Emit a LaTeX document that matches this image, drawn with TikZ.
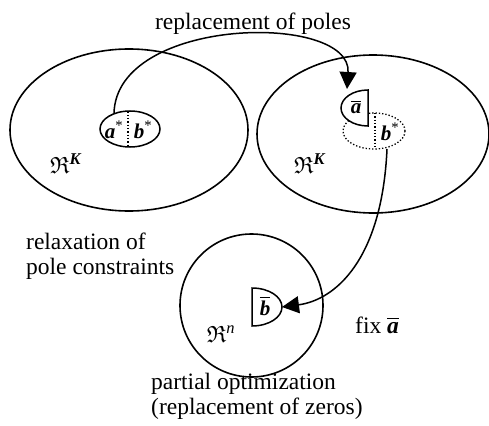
\documentclass[tikz,border=0pt]{standalone}
\usepackage{amsmath,amssymb}
\usepackage{fontspec}
\setmainfont{Liberation Serif}
\usetikzlibrary{shapes.geometric,arrows.meta}
\begin{document}
\begin{tikzpicture}[x=1pt,y=-1pt,
  every node/.style={font=\fontsize{23.5}{25}\selectfont, inner sep=0pt},
  region/.style={draw, ellipse, line width=1.6pt},
  inner/.style={line width=1.5pt},
  dottedline/.style={line width=1.3pt, dotted},
  conn/.style={line width=1.5pt, -{Triangle[length=17pt,width=17pt]}},
  lbl/.style={align=left},
  small/.style={font=\fontsize{21}{24}\selectfont}]
\useasboundingbox (0,0) rectangle (489,425);
% big regions
\node[region, minimum width=238pt, minimum height=162pt] (L) at (129,130) {};
\node[region, minimum width=232pt, minimum height=158pt] (R) at (373,134) {};
\node[region, circle, minimum size=143pt] (B) at (251.5,305.5) {};
% left small ellipse a*|b*
\node[draw, ellipse, inner, minimum width=60pt, minimum height=36pt] (AB) at (130,129) {};
\draw[dottedline] (128,111.5) -- (128,146.5);
\node[small] (astar) at (114,130) {\textbf{\textit{a}}\textsuperscript{*}};
\node[small] (bstar) at (143,130) {\textbf{\textit{b}}\textsuperscript{*}};
% right: a-bar half and dotted b ellipse
\node[draw, ellipse, dottedline, minimum width=62pt, minimum height=36pt] (DB) at (374,131) {};
\draw[dottedline] (375,113) -- (375,149);
\draw[inner, fill=white] (368,90) arc[start angle=-90, end angle=-270, x radius=27, y radius=18] -- cycle;
\node[small] (abar) at (356,107) {$\overline{\textbf{\textit{a}}}$};
\node[small] (bstar2) at (390,132) {\textbf{\textit{b}}\textsuperscript{*}};
% bottom: b-bar half
\draw[inner] (252,288) arc[start angle=-90, end angle=90, x radius=30, y radius=19] -- cycle;
\node[small] (bbar) at (265,306) {$\overline{\textbf{\textit{b}}}$};
% space labels
\node (RK1) at (66,164) {$\mathfrak{R}^{\textbf{\textit{K}}}$};
\node (RK2) at (310,164) {$\mathfrak{R}^{\textbf{\textit{K}}}$};
\node (Rn) at (221,334) {$\mathfrak{R}^{\textit{n}}$};
% coordinates for connectors
\coordinate (s1) at (114,113.5);
\coordinate (t1) at (347,89);
\coordinate (s2) at (387,149);
\coordinate (t2) at (282,307);
\draw[conn] (s1) .. controls (116,16) and (352,12) .. (t1);
\draw[conn] (s2) .. controls (382,260) and (335,300) .. (t2);
% text labels
\node (title) at (253,24) {replacement of poles};
\node[lbl, anchor=west] (relax) at (26,256) {relaxation of\\pole constraints};
\node[lbl, anchor=west] (partial) at (151,396) {partial optimization\\(replacement of zeros)};
\node[anchor=west] (fix) at (355,325) {fix $\overline{\textbf{\textit{a}}}$};
\end{tikzpicture}
\end{document}
